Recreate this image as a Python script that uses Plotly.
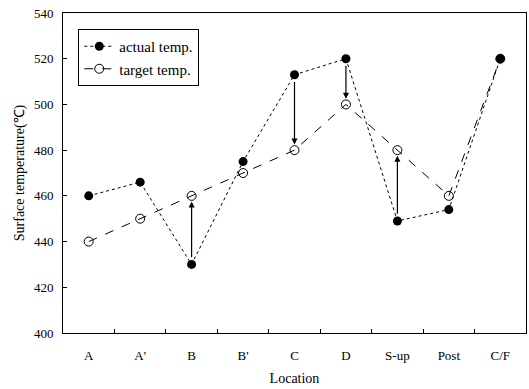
import plotly.graph_objects as go

locations = ["A", "A'", "B", "B'", "C", "D", "S-up", "Post", "C/F"]
actual_temp = [460, 466, 430, 475, 513, 520, 449, 454, 520]
target_temp = [440, 450, 460, 470, 480, 500, 480, 460, 520]
# locations where an arrow marks the correction from actual to target
arrow_locations = ["B", "C", "D", "S-up"]

font_family = "Liberation Serif, Times New Roman, serif"

fig = go.Figure()
fig.add_trace(go.Scatter(
    x=locations, y=actual_temp, name="actual temp.",
    mode="lines+markers",
    line=dict(color="black", width=1, dash="dot"),
    marker=dict(symbol="circle", size=9, color="black"),
))
fig.add_trace(go.Scatter(
    x=locations, y=target_temp, name="target temp.",
    mode="lines+markers",
    line=dict(color="black", width=1, dash="dash"),
    marker=dict(symbol="circle-open", size=9, color="black", line=dict(width=1)),
))

for loc in arrow_locations:
    i = locations.index(loc)
    a, t = actual_temp[i], target_temp[i]
    gap = 2.5 if t > a else -2.5
    fig.add_annotation(
        x=loc, y=t - gap, ax=loc, ay=a + gap,
        xref="x", yref="y", axref="x", ayref="y",
        showarrow=True, arrowhead=2, arrowsize=1, arrowwidth=1.2,
        arrowcolor="black", text="",
    )

fig.update_layout(
    width=529, height=389,
    margin=dict(l=63, r=3, t=13, b=56),
    paper_bgcolor="white", plot_bgcolor="white",
    font=dict(family=font_family, size=13, color="black"),
    showlegend=True,
    legend=dict(
        x=0.033, y=0.95, xanchor="left", yanchor="top",
        bgcolor="white", bordercolor="black", borderwidth=1,
        font=dict(family=font_family, size=15),
        tracegroupgap=0, itemwidth=30,
    ),
    xaxis=dict(
        title=dict(text="Location", font=dict(size=14), standoff=11),
        range=[-0.5, 8.5], tickson="boundaries", ticks="inside", ticklen=4,
        ticklabelstandoff=10,
        tickcolor="black", showline=True, linecolor="black", linewidth=1,
        mirror=True, showgrid=False, zeroline=False,
    ),
    yaxis=dict(
        title=dict(text="Surface temperature(℃)", font=dict(size=14), standoff=6),
        range=[400, 540], dtick=20, ticks="inside", ticklen=4,
        ticklabelstandoff=6,
        tickcolor="black", showline=True, linecolor="black", linewidth=1,
        mirror=True, showgrid=False, zeroline=False,
    ),
)

fig.write_html("out.html")
